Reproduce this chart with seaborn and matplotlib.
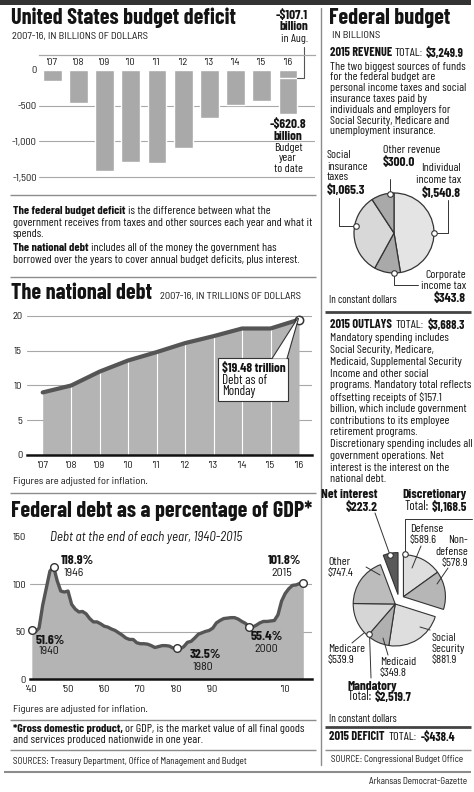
import numpy as np
import pandas as pd
import matplotlib
matplotlib.use("Agg")
import matplotlib.pyplot as plt
from matplotlib.patches import Rectangle, Polygon
import seaborn as sns

sns.set_theme(style="white")
SEMI = ["Barlow Semi Condensed", "Liberation Sans", "DejaVu Sans"]
BODY = ["Barlow Condensed", "Liberation Sans", "DejaVu Sans"]
HEAD = BODY
plt.rcParams["font.family"] = SEMI

# ---- data ----
bar_years = ["'07", "'08", "'09", "'10", "'11", "'12", "'13", "'14", "'15", "'16"]
deficit = [-160.7, -458.6, -1412.7, -1294.4, -1299.6, -1087.0, -679.5, -484.6, -438.5, -620.8]
aug_2016 = -107.1
deficit_ticks = [0, -500, -1000, -1500]
deficit_tick_labels = ["0", "-500", "-1,000", "-1,500"]

debt_years = ["'07", "'08", "'09", "'10", "'11", "'12", "'13", "'14", "'15", "'16"]
debt = [9.0, 10.0, 12.0, 13.6, 14.8, 16.1, 17.1, 18.2, 18.2, 19.48]
debt_ticks = [0, 5, 10, 15, 20]

gdp_years = list(range(1940, 2016))
gdp_pct = [51.6, 50.0, 54.0, 78.0, 96.0, 114.0, 118.9, 104.0, 93.0, 92.0,
           93.0, 79.0, 74.0, 71.0, 71.5, 69.0, 64.0, 60.5, 60.5, 58.5,
           56.0, 55.0, 53.0, 51.5, 49.0, 46.5, 43.5, 42.0, 42.0, 38.5,
           37.5, 37.5, 37.0, 35.5, 33.5, 34.5, 35.5, 35.5, 35.0, 33.0,
           32.5, 32.0, 34.5, 39.0, 40.0, 43.5, 47.5, 49.0, 50.5, 51.5,
           54.0, 59.5, 62.0, 64.0, 64.5, 65.0, 65.0, 63.5, 61.0, 59.0,
           55.4, 55.0, 57.0, 59.5, 61.0, 61.0, 61.5, 62.0, 68.0, 82.5,
           90.5, 95.5, 99.0, 99.5, 101.0, 101.8]
gdp_marked = [1940, 1946, 1980, 2000, 2015]
gdp_tick_years = [1940, 1950, 1960, 1970, 1980, 1990, 2010]
gdp_tick_labels = ["'40", "'50", "'60", "'70", "'80", "'90", "'10"]
gdp_ticks = [0, 50, 100, 150]

revenue_labels = ["Individual income tax", "Corporate income tax", "Social insurance taxes", "Other revenue"]
revenue = [1540.8, 343.8, 1065.3, 300.0]

outlay_labels = ["Defense", "Non-defense", "Social Security", "Medicaid", "Medicare", "Other", "Net interest"]
outlays = [589.6, 578.9, 881.9, 349.8, 539.9, 747.4, 223.2]
outlay_group = ["disc", "disc", "mand", "mand", "mand", "mand", "int"]

# ---- styling ----
W, H = 474, 792
INK = "#141414"
BAR = "#a9a9a9"
AREA = "#b4b4b4"
LINE = "#555555"
GRID = "#a8a8a8"
RULE = "#8c8c8c"
FS = 8.6

fig = plt.figure(figsize=(W / 100, H / 100), dpi=100)
fig.patch.set_facecolor("white")


def axes_px(l, t, r, b, **kw):
    return fig.add_axes([l / W, 1 - b / H, (r - l) / W, (b - t) / H], **kw)


ov = axes_px(0, 0, W, H, zorder=10)
ov.set_xlim(0, W)
ov.set_ylim(H, 0)
ov.axis("off")
ov.patch.set_alpha(0)


def txt(x, y, s, size=FS, weight="normal", ha="left", style="normal", family=None):
    return ov.text(x, y, s, fontsize=size, fontweight=weight, ha=ha, va="center",
                   fontstyle=style, color=INK, family=family or BODY)


def rich(x, y, parts, size=FS, ha="left", gap=2.5):
    r = fig.canvas.get_renderer()
    seq = parts if ha == "left" else parts[::-1]
    for s, w in seq:
        t = txt(x, y, s, size, w, ha=ha)
        wpx = t.get_window_extent(renderer=r).width
        x = x + wpx + gap if ha == "left" else x - wpx - gap


def rule(y, x0, x1, color=RULE, lw=1.0):
    ov.plot([x0, x1], [y, y], color=color, lw=lw, solid_capstyle="butt")


def leader(xs, ys, dot=None):
    ov.plot(xs, ys, color="#333333", lw=0.7)
    if dot is not None:
        ov.plot(*dot, "o", ms=4, mfc="white", mec="#333333", mew=0.8, zorder=12)


def title(x, y, s):
    return txt(x, y, s, 16, "bold", family=HEAD)


def small(x, y, s, size=7.5, ha="left"):
    return txt(x, y, s, size, ha=ha, family=SEMI)


# frame
ov.add_patch(Rectangle((0, 0), 471, 4.5, color="#333333", lw=0))
ov.plot([321.5, 321.5], [8, 765], color=RULE, lw=1)
rule(771.5, 4, 471, lw=1.5)

# ---- budget deficit bars ----
title(11, 18, "United States budget deficit")
small(12, 37, "2007-16, IN BILLIONS OF DOLLARS")

ax1 = axes_px(39, 55, 315, 185)
sns.barplot(x=bar_years, y=deficit, order=bar_years, color=BAR, saturation=1,
            width=0.72, ax=ax1)
ax1.set_xlim(-0.5, 10.03)
ax1.set_ylim(-1612, 210)
ax1.set_yticks(deficit_ticks, deficit_tick_labels)
ax1.tick_params(axis="y", length=0, pad=1.5, labelsize=7.5, labelcolor=INK)
ax1.tick_params(axis="x", bottom=False, labelbottom=False)
ax1.set_xlabel("")
ax1.grid(axis="y", color=GRID, lw=0.8)
ax1.set_axisbelow(True)
ax1.get_ygridlines()[0].set_visible(False)
for s in ["left", "right", "bottom"]:
    ax1.spines[s].set_visible(False)
ax1.spines["top"].set_color(GRID)
ax1.spines["top"].set_linewidth(0.9)
for i, lbl in enumerate(bar_years):
    ax1.text(i, 0.94, lbl, transform=ax1.get_xaxis_transform(), ha="center", va="center",
             fontsize=7.5, color=INK)
last = len(deficit) - 1
ax1.hlines(aug_2016, last - 0.36, last + 0.36, color="white", lw=1)
ax1.plot([last + 0.36, last + 0.6, last + 0.6], [aug_2016, aug_2016, 325],
         color="#555555", lw=0.8, clip_on=False)

txt(308, 15, "-$107.1", 9.5, "bold", ha="right")
txt(308, 26, "billion", 9.5, "bold", ha="right")
txt(308, 39, "in Aug.", ha="right")
txt(288, 124, "-$620.8", 9.5, "bold", ha="center")
txt(288, 136, "billion", 9.5, "bold", ha="center")
txt(288, 148, "Budget", ha="center")
txt(288, 158, "year", ha="center")
txt(288, 169, "to date", ha="center")

rule(195, 10, 316)
rich(13, 211, [("The federal budget deficit", "bold"), ("is the difference between what the", "normal")])
txt(13, 223, "government receives from taxes and other sources each year and what it")
txt(13, 234, "spends.")
rich(13, 248, [("The national debt", "bold"), ("includes all of the money the government has", "normal")])
txt(13, 260, "borrowed over the years to cover annual budget deficits, plus interest.")
rule(277, 10, 316)

# ---- national debt area ----
title(11, 293, "The national debt")
small(160, 297, "2007-16, IN TRILLIONS OF DOLLARS")

ax2 = axes_px(27, 305, 312, 455)
idx = np.arange(len(debt))
ax2.fill_between(idx, debt, color=AREA, lw=0, zorder=2)
ax2.vlines(idx[1:-1], 0, debt[1:-1], color="white", lw=0.8, zorder=3)
sns.lineplot(x=idx, y=debt, ax=ax2, color=LINE, lw=3, zorder=4)
ax2.plot(idx[-1], debt[-1], "o", ms=6, mfc="white", mec="#333333", mew=1.1, zorder=6, clip_on=False)
ax2.set_xlim(-0.551, 9.456)
ax2.set_ylim(0, 21.58)
ax2.set_xticks(idx, debt_years)
ax2.set_yticks(debt_ticks)
ax2.tick_params(axis="x", length=0, pad=4.5, labelsize=7.5, labelcolor=INK)
ax2.tick_params(axis="y", length=0, pad=3.5, labelsize=7.5, labelcolor=INK)
ax2.grid(axis="y", color=GRID, lw=0.8, zorder=0)
ax2.set_axisbelow(True)
for s in ["left", "right", "top"]:
    ax2.spines[s].set_visible(False)
ax2.spines["bottom"].set_color("#111111")
ax2.spines["bottom"].set_linewidth(1.8)
ax2.spines["bottom"].set_zorder(5)

ov.add_patch(Rectangle((218, 358), 70, 43, fc="white", ec="#333333", lw=0.8, zorder=11))
ov.add_patch(Polygon([(272, 358.6), (287, 358.6), (299, 316)], closed=True, fc="white", lw=0, zorder=11.5))
ov.plot([272, 297.5], [358.6, 318.5], color="#333333", lw=0.8, zorder=11.6)
ov.plot([287, 298.5], [358.6, 318.5], color="#333333", lw=0.8, zorder=11.6)
for t in [txt(222, 368, "$19.48 trillion", 9.5, "bold"), txt(222, 380, "Debt as of", 9.5),
          txt(222, 392, "Monday", 9.5)]:
    t.set_zorder(12)
small(13, 482, "Figures are adjusted for inflation.")
rule(493, 10, 316)

# ---- federal debt % of GDP ----
title(11, 511, "Federal debt as a percentage of GDP*")
txt(50, 537, "Debt at the end of each year, 1940-2015", 9.4, style="italic", family=SEMI)

ax3 = axes_px(30, 537, 312, 679.3)
ax3.fill_between(gdp_years, gdp_pct, color=AREA, lw=0, zorder=2)
sns.lineplot(x=gdp_years, y=gdp_pct, ax=ax3, color=LINE, lw=2.4, zorder=4)
gdp_lookup = dict(zip(gdp_years, gdp_pct))
ax3.plot(gdp_marked, [gdp_lookup[y] for y in gdp_marked], "o", ls="none", ms=5.5,
         mfc="white", mec="#333333", mew=1, zorder=6, clip_on=False)
ax3.set_xlim(1939.5, 2017.4)
ax3.set_ylim(0, 150)
ax3.set_xticks(gdp_tick_years, gdp_tick_labels)
ax3.set_yticks(gdp_ticks)
ax3.tick_params(axis="x", length=0, pad=4, labelsize=7.5, labelcolor=INK)
ax3.tick_params(axis="y", length=0, pad=3, labelsize=7.5, labelcolor=INK)
ax3.grid(axis="y", color=GRID, lw=0.8, zorder=0)
ax3.set_axisbelow(True)
ax3.get_ygridlines()[0].set_visible(False)
ax3.get_ygridlines()[-1].set_visible(False)
for s in ["left", "right", "top"]:
    ax3.spines[s].set_visible(False)
ax3.spines["bottom"].set_color("#111111")
ax3.spines["bottom"].set_linewidth(1.8)
ax3.spines["bottom"].set_zorder(5)

for x0, y0, pct, yr in [(61, 561, "118.9%", "1946"), (36, 640, "51.6%", "1940"),
                        (190, 655, "32.5%", "1980"), (251, 637, "55.4%", "2000"),
                        (268, 561, "101.8%", "2015")]:
    txt(x0, y0, pct, 9.8, "bold")
    txt(x0 + 3, y0 + 11.5, yr, 8.5, family=SEMI)

small(13, 710, "Figures are adjusted for inflation.")
rule(720, 10, 316)
rich(13, 729, [("*Gross domestic product,", "bold"), ("or GDP, is the market value of all final goods", "normal")])
txt(13, 740, "and services produced nationwide in one year.")
rule(750, 10, 316)
small(13, 761, "SOURCES: Treasury Department, Office of Management and Budget", 6.5)

# ---- federal budget: revenue ----
title(329, 18, "Federal budget")
small(332, 35, "IN BILLIONS")
rich(330, 53, [("2015 REVENUE", "bold"), ("TOTAL:", "normal"), ("$3,249.9", "bold")], 8.8)
rev_text = ["The two biggest sources of funds", "for the federal budget are",
            "personal income taxes and social", "insurance taxes paid by",
            "individuals and employers for", "Social Security, Medicare and",
            "unemployment insurance."]
for k, line in enumerate(rev_text):
    txt(330, 66.5 + k * 10.8, line)

R1 = 70.0
axp1 = axes_px(394 - R1, 233 - R1, 394 + R1, 233 + R1, zorder=5)
axp1.pie(revenue, radius=40 / R1, startangle=90, counterclock=False,
         colors=["#e4e4e4", "#a9a9a9", "#d8d8d8", "#a9a9a9"],
         wedgeprops=dict(edgecolor="#333333", linewidth=0.9))
axp1.set_xlim(-1, 1)
axp1.set_ylim(-1, 1)
axp1.axis("off")

leader([390.5, 390.5], [193.5, 179], dot=(390.5, 193.5))
leader([434, 448, 448], [233, 233, 200], dot=(434, 233))
leader([356, 339, 339], [226, 226, 198], dot=(356, 226))
leader([394, 394, 418], [273, 285, 285], dot=(394, 273))

txt(327, 155, "Social")
txt(327, 166.5, "insurance")
txt(327, 177.5, "taxes")
txt(327, 190, "$1,065.3", 9.5, "bold")
txt(383, 150, "Other revenue")
txt(383, 162, "$300.0", 9.5, "bold")
txt(461, 168, "Individual", ha="right")
txt(461, 180, "income tax", ha="right")
txt(461, 193, "$1,540.8", 9.5, "bold", ha="right")
txt(466, 275, "Corporate", ha="right")
txt(466, 286, "income tax", ha="right")
txt(466, 298, "$343.8", 9.5, "bold", ha="right")
txt(329, 300, "In constant dollars", 7.8)

# ---- federal budget: outlays ----
rule(311.7, 325, 471, color="#444444", lw=2)
rich(330, 325, [("2015 OUTLAYS", "bold"), ("TOTAL:", "normal"), ("$3,688.3", "bold")], 8.8, gap=4)
out_text = ["Mandatory spending includes", "Social Security, Medicare,",
            "Medicaid, Supplemental Security", "Income and other social",
            "programs. Mandatory total reflects", "offsetting receipts of $157.1",
            "billion, which include government", "contributions to its employee",
            "retirement programs.", "Discretionary spending includes all",
            "government operations. Net", "interest is the interest on the",
            "national debt."]
for k, line in enumerate(out_text):
    txt(330, 338.3 + k * 11.75, line)

R2 = 70.0
cx, cy = 399, 600
axp2 = axes_px(cx - R2, cy - R2, cx + R2, cy + R2, zorder=5)
out_colors = ["#dedede", "#b6b6b6", "#dedede", "#b0b0b0", "#d6d6d6", "#bcbcbc", "#595959"]
frac = np.array(outlays) / np.sum(outlays)
edges = np.concatenate([[0], np.cumsum(frac)]) * 360
for g in ["disc", "mand", "int"]:
    members = [i for i, gg in enumerate(outlay_group) if gg == g]
    mid = np.deg2rad((edges[members[0]] + edges[members[-1] + 1]) / 2)
    shift = 5.5 / R2
    wedges, _ = axp2.pie(outlays, radius=42 / R2, startangle=90, counterclock=False,
                         colors=out_colors, center=(shift * np.sin(mid), shift * np.cos(mid)),
                         wedgeprops=dict(edgecolor="#333333", linewidth=0.8))
    for i, w in enumerate(wedges):
        w.set_visible(i in members)
axp2.set_xlim(-1, 1)
axp2.set_ylim(-1, 1)
axp2.axis("off")

txt(378, 495, "Net interest", 9.5, "bold", ha="right")
txt(378, 507, "$223.2", 9.5, "bold", ha="right")
txt(467, 495, "Discretionary", 9.5, "bold", ha="right")
rich(467, 507, [("Total:", "normal"), ("$1,168.5", "bold")], 9.2, ha="right")
leader([375, 390], [513, 555], dot=(390, 555))
leader([405, 405, 472], [554, 519, 519], dot=(405, 554))

txt(410, 529, "Defense")
txt(410, 540, "$589.6")
txt(468, 540, "Non-", ha="right")
txt(468, 552, "defense", ha="right")
txt(468, 563, "$578.9", ha="right")
leader([421, 412], [546, 568])
leader([448, 437], [568, 584])
txt(328, 562, "Other")
txt(328, 573, "$747.4")
leader([366, 380], [567, 575])
txt(432, 638, "Social")
txt(432, 649, "Security")
txt(432, 660, "$881.9")
leader([420, 430], [627, 630])
txt(328, 649, "Medicare")
txt(328, 660, "$539.9")
leader([352, 364], [643, 633])
txt(380, 662, "Medicaid")
txt(380, 673, "$349.8")
leader([388, 383], [655, 638])
leader([369.5, 371], [633.5, 678], dot=(369.5, 633.5))
txt(348, 686, "Mandatory", 9.5, "bold")
rich(348, 697, [("Total:", "normal"), ("$2,519.7", "bold")], 9.2)

txt(329, 719, "In constant dollars", 7.8)
rule(727, 325, 471, color="#444444", lw=2)
rich(329, 737, [("2015 DEFICIT", "bold"), ("TOTAL:", "normal"), ("-$438.4", "bold")], 8.8, gap=4)
rule(750, 325, 471)
small(397, 760, "SOURCE: Congressional Budget Office", 6.5, ha="center")
small(467, 781, "Arkansas Democrat-Gazette", 6.5, ha="right")

fig.savefig("out.png", dpi=100, facecolor="white")
